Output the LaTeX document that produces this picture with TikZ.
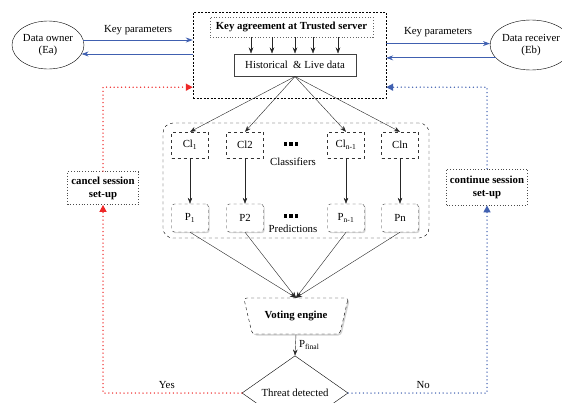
\documentclass[tikz,border=0pt]{standalone}
\usepackage{fontspec}
\setmainfont{Liberation Serif}
\usetikzlibrary{arrows.meta,positioning,calc,fit,shapes.geometric,shadows}

\definecolor{kpblue}{RGB}{64,96,176}
\definecolor{yesred}{RGB}{238,40,40}

\begin{document}
\begin{tikzpicture}[x=1pt,y=-1pt,
  every node/.style={font=\fontsize{10.8}{12.5}\selectfont,text=black},
  arr/.style={-{Stealth[length=6pt,width=4.5pt]},black!85},
  kp/.style={-{Stealth[length=7pt,width=5pt]},kpblue,line width=0.8pt},
  yesline/.style={yesred,line width=1.5pt,line cap=round,dash pattern=on 0pt off 3.8pt,-{Triangle[length=7pt,width=7pt,line cap=butt]}},
  noline/.style={kpblue,line width=1.5pt,line cap=round,dash pattern=on 0pt off 3.8pt,-{Triangle[length=7pt,width=7pt,line cap=butt]}},
  clbox/.style={draw=black!80,dashed,minimum width=37pt,minimum height=26pt,inner sep=1pt},
  pbox/.style={clbox,rounded corners=3pt,minimum height=28pt,fill=white,drop shadow={opacity=0.35,shadow xshift=1.2pt,shadow yshift=-1.2pt}},
  sbox/.style={draw=black!70,dotted,thick,align=center,font=\fontsize{10.8}{13}\selectfont\bfseries},
]
  \useasboundingbox (0,0) rectangle (562,402);

  \node[draw,ellipse,minimum width=72pt,minimum height=48pt,align=center,inner sep=0pt] (owner) at (48,45) {Data owner\\(Ea)};
  \node[draw,ellipse,minimum width=78pt,minimum height=50pt,align=center,inner sep=0pt] (recv) at (531,45) {Data receiver\\(Eb)};

  \node[draw,dash pattern=on 2pt off 1.5pt,minimum width=193pt,minimum height=86pt] (srv) at (289.5,55) {};
  \node[draw=black!60,dotted,thick,minimum width=163pt,minimum height=20pt,font=\fontsize{10.8}{12.5}\selectfont\bfseries] (key) at (291.5,27) {Key agreement at Trusted server};
  \node[draw=black!75,line width=1pt,minimum width=122pt,minimum height=22pt] (hist) at (295,65) {Historical \ \& Live data};
  \foreach \x in {251,272,295,313,338}
    \draw[arr] (key.south -| \x,0) -- (hist.north -| \x,0);

  \draw[kp] (owner.8) -- node[above=1pt] {Key parameters} (owner.8 -| srv.west);
  \draw[kp] (owner.-15 -| srv.west) -- (owner.-15);
  \draw[kp] (recv.178 -| srv.east) -- node[above=3pt] {Key parameters} (recv.178);
  \draw[kp] (recv.200) -- (recv.200 -| srv.east);

  \node[draw,dashed,rounded corners=10pt,minimum width=266pt,minimum height=115pt] (grp) at (296,180.5) {};
  \node (cdots) at (291,144) {\rule{3.5pt}{3.5pt}\hspace{1.8pt}\rule{3.5pt}{3.5pt}\hspace{1.8pt}\rule{3.5pt}{3.5pt}};
  \node (clab) at (293,162) {Classifiers};
  \node (pdots) at (291,216) {\rule{3.5pt}{3.5pt}\hspace{1.8pt}\rule{3.5pt}{3.5pt}\hspace{1.8pt}\rule{3.5pt}{3.5pt}};
  \node (plab) at (293,229) {Predictions};

  \node[trapezium,shape border rotate=180,trapezium angle=68,trapezium stretches=true,
        minimum width=105pt,minimum height=36pt,draw,dashed,rounded corners=3pt,fill=white,
        drop shadow={opacity=0.35,shadow xshift=1.5pt,shadow yshift=-1.5pt},
        font=\fontsize{10.8}{12.5}\selectfont\bfseries] (vote) at (296,316) {Voting engine};

  \foreach \n/\x/\c/\p in {1/190/Cl\textsubscript{1}/P\textsubscript{1},
                           2/245/Cl2/P2,
                           3/346/Cl\textsubscript{n-1}/P\textsubscript{n-1},
                           4/400/Cln/Pn} {
    \node[clbox] (cl\n) at (\x,145) {\c};
    \node[pbox] (p\n) at (\x,218) {\p};
    \draw[arr] (hist.south) -- (cl\n.north);
    \draw[arr] (cl\n) -- (p\n);
    \draw[arr] (p\n.south) -- (vote.north);
  }

  \node[diamond,draw,minimum width=106pt,minimum height=52pt,inner sep=0pt] (thr) at (295,393) {Threat detected};
  \draw[arr] (vote.south) -- node[right] {P\textsubscript{final}} (thr.north);

  \node[sbox,minimum width=71pt,minimum height=33pt] (cancel) at (103,188) {cancel session\\set-up};
  \node[sbox,minimum width=80pt,minimum height=36pt] (cont) at (487,187) {continue session\\set-up};

  \draw[yesline] (thr.west) -| node[pos=0.27,above] {Yes} (cancel.south);
  \draw[yesline] (cancel.north) |- ([yshift=11pt]srv.south west);
  \draw[noline] (thr.east) -| node[pos=0.27,above] {No} (cont.south);
  \draw[noline] (cont.north) |- ([yshift=11pt]srv.south east);
\end{tikzpicture}
\end{document}
